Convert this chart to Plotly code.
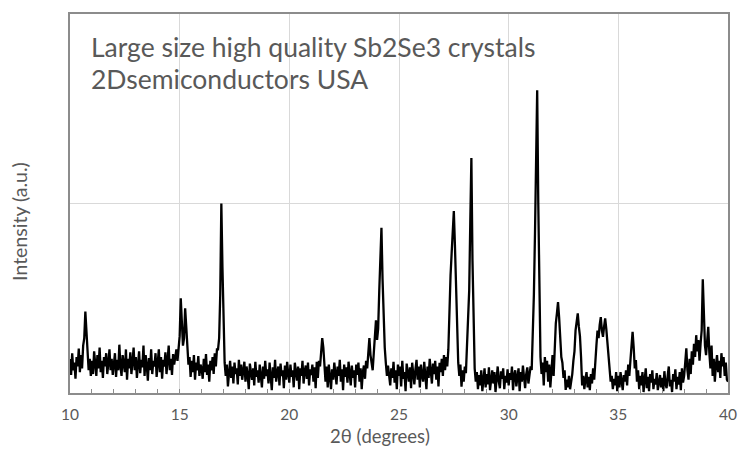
import plotly.graph_objects as go

# XRD scan: 2θ from 10 to 40 degrees, 0.05 degree step
scan_start = 10.0
scan_step = 0.05

intensity = [
    # 10.00 - 10.95
    180, 95, 210, 120, 160, 75, 190, 140, 235, 110, 200, 130, 250, 290, 430, 330, 210, 120, 180, 90,
    # 11
    170, 100, 220, 150, 90, 200, 130, 240, 110, 170, 80, 190, 140, 210, 100, 160, 230, 120, 180, 95,
    # 12
    150, 210, 85, 175, 120, 255, 140, 90, 200, 160, 110, 230, 70, 180, 130, 215, 100, 165, 240, 120,
    # 13
    190, 80, 160, 220, 105, 175, 135, 250, 90, 200, 145, 65, 185, 120, 230, 100, 170, 140, 210, 85,
    # 14
    160, 230, 110, 190, 75, 175, 140, 215, 100, 165, 250, 120, 180, 95, 205, 150, 190, 230, 170, 260,
    # 15
    300, 500, 320, 250, 290, 447, 350, 210, 150, 190, 85, 170, 110, 200, 70, 160, 120, 195, 90, 150,
    # 16
    130, 75, 180, 110, 205, 95, 150, 60, 170, 120, 190, 100, 210, 140, 230, 230, 290, 520, 1000, 665,
    # 17
    330, 160, 90, 150, 35, 120, 170, 80, 140, 50, 160, 100, 130, 45, 175, 90, 150, 70, 120, 165,
    # 18
    60, 140, 95, 20, 155, 110, 70, 130, 40, 165, 85, 120, 55, 150, 100, 30, 140, 75, 170, 90,
    # 19
    125, 50, 160, 95, 15, 135, 80, 175, 60, 110, 140, 40, 155, 90, 120, 25, 145, 70, 165, 100,
    # 20
    55, 150, 85, 120, 30, 160, 100, 65, 140, 20, 130, 90, 170, 50, 115, 145, 75, 160, 40, 125,
    # 21
    95, 150, 60, 135, 25, 165, 80, 170, 140, 220, 290, 240, 130, 60, 140, 30, 150, 90, 20, 125,
    # 22
    70, 160, 105, 45, 140, 90, 175, 60, 125, 15, 150, 85, 135, 55, 165, 100, 40, 145, 80, 120,
    # 23
    30, 150, 95, 160, 60, 130, 20, 110, 145, 75, 170, 130, 210, 290, 200, 150, 120, 210, 300, 384,
    # 24
    280, 340, 540, 700, 872, 600, 330, 240, 158, 90, 145, 95, 40, 130, 80, 165, 55, 120, 20, 150,
    # 25
    90, 140, 35, 170, 75, 110, 10, 155, 100, 60, 135, 25, 160, 90, 45, 125, 175, 70, 140, 30,
    # 26
    150, 95, 60, 165, 110, 20, 140, 80, 180, 125, 50, 155, 100, 170, 70, 140, 35, 160, 110, 180,
    # 27
    90, 200, 120, 190, 140, 230, 480, 620, 737, 850, 960, 780, 520, 300, 160, 90, 150, 33, 120, 60,
    # 28
    140, 105, 260, 400, 540, 900, 1240, 700, 330, 130, 60, 110, 20, 95, 40, 120, 10, 80, 130, 30,
    # 29
    100, 45, 135, 15, 85, 120, 50, 110, 5, 95, 140, 60, 25, 115, 75, 130, 20, 90, 55, 125,
    # 30
    40, 105, 70, 140, 15, 95, 120, 35, 80, 130, 10, 110, 60, 145, 85, 25, 100, 135, 50, 90,
    # 31
    140, 121, 280, 520, 842, 1200, 1598, 1000, 520, 190, 100, 160, 40, 190, 110, 170, 60, 150, 30, 140,
    # 32
    200, 90, 250, 368, 420, 480, 400, 250, 190, 160, 80, 120, 16, 70, 30, 90, 20, 60, 100, 170,
    # 33
    220, 330, 380, 420, 350, 300, 190, 40, 90, 20, 70, 110, 30, 85, 15, 100, 50, 130, 70, 200,
    # 34
    250, 330, 290, 360, 400, 330, 296, 350, 394, 340, 260, 200, 120, 60, 90, 20, 75, 40, 110, 10,
    # 35
    90, 30, 110, 55, 15, 95, 60, 120, 40, 150, 90, 170, 250, 323, 240, 130, 174, 60, 120, 20,
    # 36
    90, 40, 110, 5, 70, 130, 25, 85, 10, 100, 55, 120, 20, 75, 45, 105, 15, 60, 95, 30,
    # 37
    80, 10, 115, 50, 25, 90, 140, 35, 70, 5, 100, 60, 125, 20, 85, 45, 110, 15, 130, 55,
    # 38
    90, 160, 236, 120, 70, 180, 100, 220, 150, 260, 190, 305, 220, 280, 170, 260, 330, 600, 420, 250,
    # 39
    200, 300, 349, 210, 130, 250, 90, 180, 60, 150, 200, 110, 170, 80, 210, 140, 190, 90, 160, 70,
    # 40.00
    60,
]

two_theta = [round(scan_start + scan_step * i, 2) for i in range(len(intensity))]

x_ticks = [10, 15, 20, 25, 30, 35, 40]
x_title = "2θ (degrees)"
y_title = "Intensity (a.u.)"
label_line1 = "Large size high quality Sb2Se3 crystals"
label_line2 = "2Dsemiconductors USA"

FONT = "Lato, 'Open Sans', sans-serif"
TXT = "#595959"

fig = go.Figure()
fig.add_trace(go.Scatter(
    x=two_theta, y=intensity, mode="lines",
    line=dict(color="black", width=2.3),
    hoverinfo="skip", showlegend=False,
))

# page body has an 8px default margin; the figure is sized to fill the rest
OFF = 8
W, H = 750 - OFF, 449 - OFF
# plot area in page pixels
PL, PR, PT, PB = 70, 728, 12, 393
L = PL - OFF
R = (OFF + W) - PR
T = PT - OFF
B = (OFF + H) - PB
pw, ph = PR - PL, PB - PT

fig.update_layout(
    width=W, height=H,
    margin=dict(l=L, r=R, t=T, b=B, pad=0),
    paper_bgcolor="white", plot_bgcolor="white",
    font=dict(family=FONT, color=TXT, size=16),
    xaxis=dict(
        range=[10, 40], tickvals=x_ticks, ticktext=[str(v) for v in x_ticks],
        showgrid=True, gridcolor="#d9d9d9", gridwidth=1.3,
        showline=True, linecolor="#8c8c8c", linewidth=1.5, mirror=True,
        ticks="inside", ticklen=4, tickcolor="#8c8c8c",
        minor=dict(dtick=1, tick0=10, ticks="inside", ticklen=4, tickcolor="#8c8c8c", showgrid=False),
        tickfont=dict(size=15.5, color=TXT, family=FONT),
        ticklabelstandoff=7,
        zeroline=False, fixedrange=True,
    ),
    yaxis=dict(
        range=[0, 2000], dtick=1000, showticklabels=False,
        showgrid=True, gridcolor="#d9d9d9", gridwidth=1.3,
        showline=True, linecolor="#8c8c8c", linewidth=1.5, mirror=True,
        ticks="", zeroline=False, fixedrange=True,
    ),
)

def px_x(p):
    return (p - PL) / pw

def px_y(p):
    return (PB - p) / ph

fig.add_annotation(text=label_line1, xref="paper", yref="paper",
                   x=px_x(89), y=px_y(45), xanchor="left", yanchor="middle",
                   showarrow=False, font=dict(size=26.5, color=TXT, family=FONT))
fig.add_annotation(text=label_line2, xref="paper", yref="paper",
                   x=px_x(89), y=px_y(77), xanchor="left", yanchor="middle",
                   showarrow=False, font=dict(size=26.5, color=TXT, family=FONT))
fig.add_annotation(text=x_title, xref="paper", yref="paper",
                   x=px_x(380), y=px_y(436), xanchor="center", yanchor="middle",
                   showarrow=False, font=dict(size=18.5, color=TXT, family=FONT))
fig.add_annotation(text=y_title, xref="paper", yref="paper",
                   x=px_x(20), y=px_y(221), xanchor="center", yanchor="middle",
                   textangle=-90, showarrow=False, font=dict(size=19.5, color=TXT, family=FONT))

fig.write_html("out.html")
